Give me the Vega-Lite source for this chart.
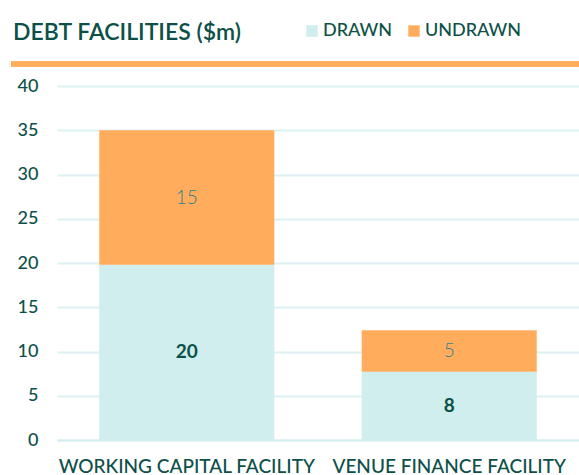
{
  "$schema": "https://vega.github.io/schema/vega-lite/v6.json",
  "width": 522,
  "height": 354,
  "autosize": {"type": "none"},
  "padding": {"left": 57, "top": 86, "right": 0, "bottom": 35},
  "background": "white",
  "config": {"view": {"stroke": null}, "font": "Lato"},
  "title": {
    "text": "DEBT FACILITIES ($m)",
    "anchor": "start",
    "frame": "group",
    "orient": "top",
    "dx": -44,
    "offset": 0,
    "dy": 41,
    "baseline": "alphabetic",
    "fontSize": 23,
    "fontWeight": 600,
    "color": "#0d5048",
    "font": "Lato"
  },
  "data": {
    "values": [
      {"facility": "WORKING CAPITAL FACILITY", "type": "DRAWN", "value": 19.8},
      {"facility": "WORKING CAPITAL FACILITY", "type": "UNDRAWN", "value": 15.2},
      {"facility": "VENUE FINANCE FACILITY", "type": "DRAWN", "value": 7.7},
      {"facility": "VENUE FINANCE FACILITY", "type": "UNDRAWN", "value": 4.7}
    ]
  },
  "layer": [
    {
      "transform": [
        {"stack": "value", "groupby": ["facility"], "sort": [{"field": "type", "order": "ascending"}], "as": ["v0", "v1"]},
        {"calculate": "(datum.v0 + datum.v1) / 2", "as": "mid"}
      ],
      "layer": [
        {
          "mark": {"type": "bar"},
          "encoding": {
            "x": {
              "field": "facility", "type": "nominal", "sort": null,
              "scale": {"paddingInner": 0.333, "paddingOuter": 0.161},
              "axis": {
                "title": null, "labelAngle": 0, "ticks": false,
                "domain": true, "domainColor": "#D3EDEF", "domainWidth": 2,
                "labelPadding": 32, "labelBaseline": "alphabetic",
                "labelFontSize": 19, "labelColor": "#0d5048", "labelFont": "Lato",
                "labelFontWeight": 500, "labelLimit": 400, "grid": false
              }
            },
            "y": {
              "field": "v0", "type": "quantitative",
              "scale": {"domain": [0, 40], "nice": false},
              "axis": {
                "title": null, "values": [0, 5, 10, 15, 20, 25, 30, 35, 40],
                "ticks": false, "domain": false, "labelPadding": 19,
                "labelFontSize": 18, "labelColor": "#0d5048", "labelFont": "Lato",
                "labelFontWeight": 500,
                "gridColor": "#DDF1F2", "gridWidth": 2
              }
            },
            "y2": {"field": "v1"},
            "color": {
              "field": "type", "type": "nominal",
              "scale": {"domain": ["DRAWN", "UNDRAWN"], "range": ["#CFEEED", "#FFAD5C"]},
              "legend": {
                "orient": "none", "legendX": 246, "legendY": -64,
                "direction": "horizontal", "title": null,
                "symbolType": "square", "symbolSize": 130, "symbolStrokeWidth": 0,
                "labelFontSize": 18, "labelColor": "#0d5048", "labelFont": "Lato",
                "labelFontWeight": 500, "labelOffset": 2, "columnPadding": 12
              }
            }
          }
        },
        {
          "transform": [{"filter": "datum.type === 'DRAWN'"}],
          "mark": {"type": "text", "fontSize": 19, "fontWeight": "bold", "color": "#0d5048", "baseline": "middle", "font": "Lato"},
          "encoding": {
            "x": {"field": "facility", "type": "nominal", "sort": null},
            "y": {"field": "mid", "type": "quantitative"},
            "text": {"field": "value", "type": "quantitative", "format": ".0f"}
          }
        },
        {
          "transform": [{"filter": "datum.type === 'UNDRAWN'"}],
          "mark": {"type": "text", "fontSize": 19, "fontWeight": 300, "color": "#2f7f95", "baseline": "middle", "font": "Lato"},
          "encoding": {
            "x": {"field": "facility", "type": "nominal", "sort": null},
            "y": {"field": "mid", "type": "quantitative"},
            "text": {"field": "value", "type": "quantitative", "format": ".0f"}
          }
        }
      ]
    },
    {
      "mark": {"type": "rule", "color": "#FFAD5C", "strokeWidth": 5},
      "encoding": {
        "x": {"datum": -0.088, "type": "quantitative", "scale": {"domain": [0, 1], "nice": false, "zero": false}, "axis": null},
        "x2": {"datum": 1},
        "y": {"datum": 42.5, "type": "quantitative"}
      }
    }
  ],
  "resolve": {"scale": {"x": "independent"}}
}
